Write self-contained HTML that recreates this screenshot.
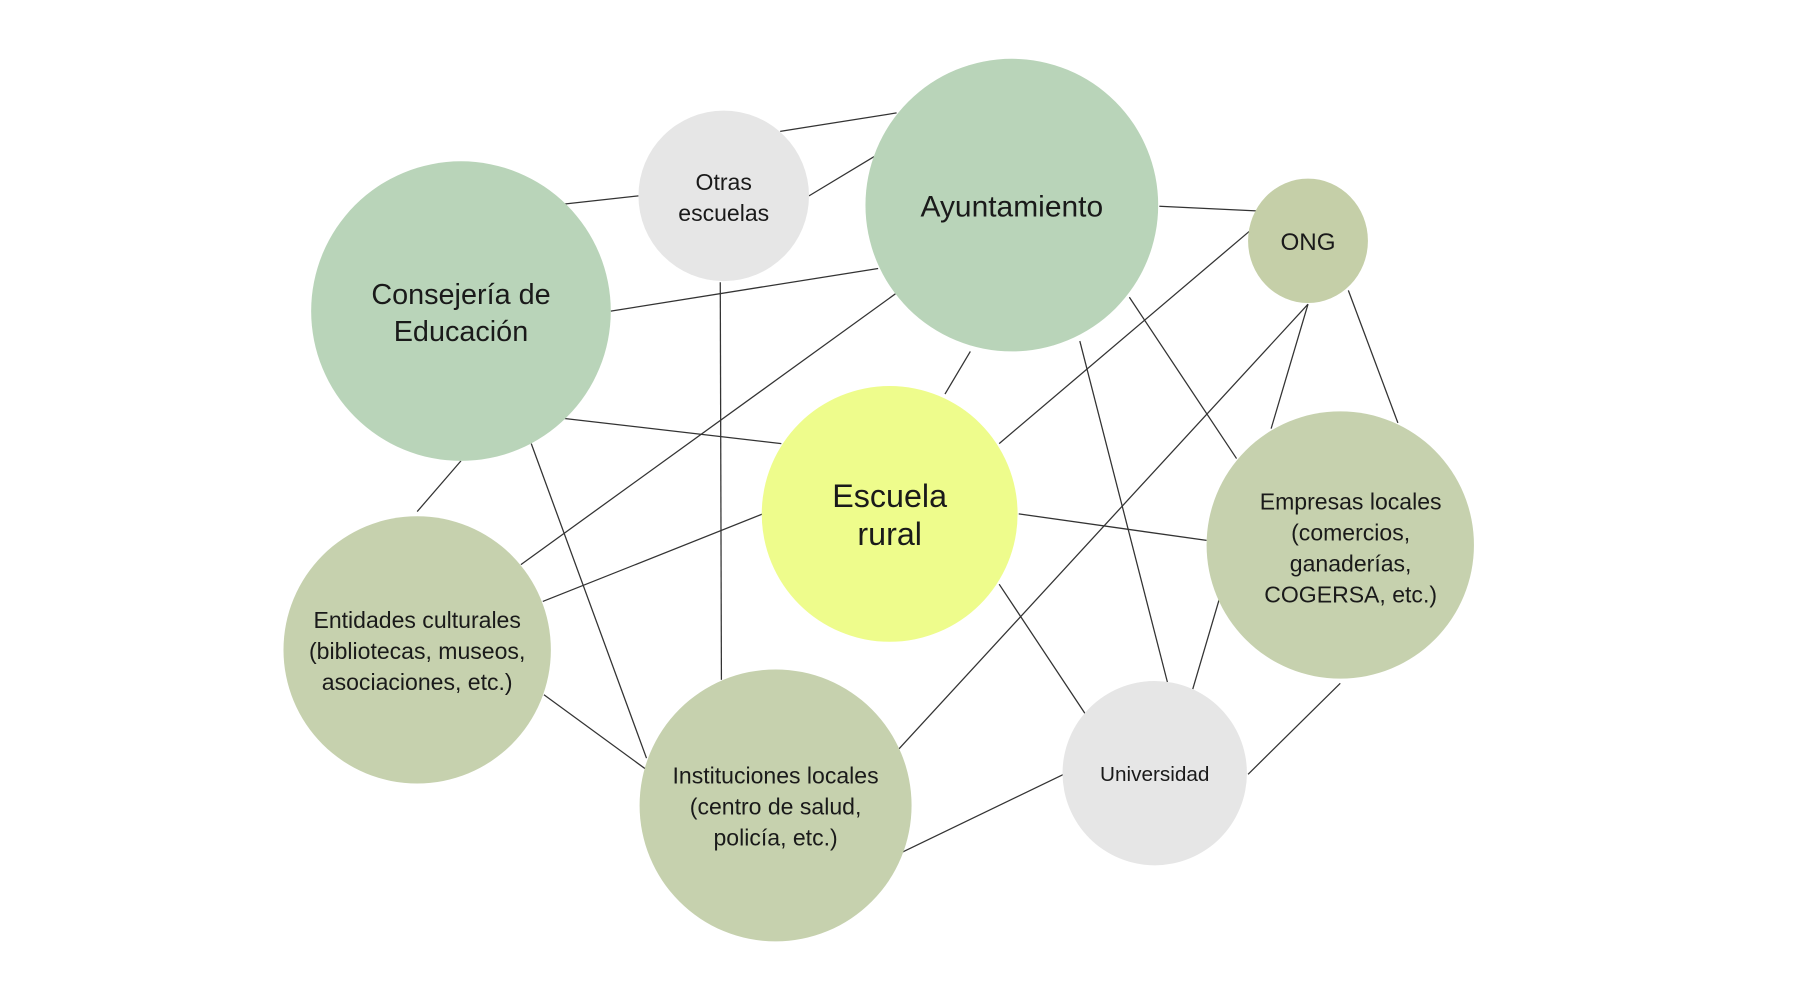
<!DOCTYPE html>
<html><head><meta charset="utf-8"><style>
html,body{margin:0;padding:0;background:#fff;}
svg{display:block;}
text{font-family:"Liberation Sans",Arial,sans-serif;fill:#1a1a1a;text-anchor:middle;}
</style></head><body>
<svg width="1807" height="984" viewBox="0 0 1568 854" preserveAspectRatio="none" xmlns="http://www.w3.org/2000/svg">
<g stroke="#333" stroke-width="1.1" fill="none">
<line x1="677" y1="114" x2="778" y2="98"/>
<line x1="702" y1="170" x2="760" y2="135"/>
<line x1="490" y1="177" x2="554" y2="170"/>
<line x1="1006" y1="179" x2="1090" y2="183"/>
<line x1="530" y1="270" x2="762" y2="233"/>
<line x1="625" y1="245" x2="626" y2="590"/>
<line x1="452" y1="490" x2="777" y2="255"/>
<line x1="842" y1="305" x2="820" y2="342"/>
<line x1="488" y1="363" x2="678" y2="385"/>
<line x1="980" y1="258" x2="1073" y2="398"/>
<line x1="937" y1="296" x2="1013" y2="592"/>
<line x1="1085" y1="200" x2="867" y2="385"/>
<line x1="1135" y1="264" x2="780" y2="650"/>
<line x1="1135" y1="264" x2="1103" y2="372"/>
<line x1="1170" y1="252" x2="1213" y2="367"/>
<line x1="884" y1="446" x2="1047" y2="469"/>
<line x1="662" y1="446" x2="471" y2="522"/>
<line x1="867" y1="507" x2="942" y2="620"/>
<line x1="400" y1="400" x2="362" y2="444"/>
<line x1="461" y1="385" x2="561" y2="658"/>
<line x1="472" y1="603" x2="561" y2="668"/>
<line x1="923" y1="672" x2="782" y2="740"/>
<line x1="1083" y1="672" x2="1163" y2="593"/>
<line x1="1035" y1="598" x2="1058" y2="520"/>
</g>
<circle cx="400" cy="270" r="130" fill="#b9d4b9"/>
<circle cx="628" cy="170" r="74" fill="#e6e6e6"/>
<circle cx="878" cy="178" r="127" fill="#b9d4b9"/>
<ellipse cx="1135" cy="209" rx="52" ry="54" fill="#c5cfa8"/>
<circle cx="772" cy="446" r="111" fill="#eefc8c"/>
<circle cx="1163" cy="473" r="116" fill="#c6d1ae"/>
<circle cx="362" cy="564" r="116" fill="#c6d1ae"/>
<circle cx="673" cy="699" r="118" fill="#c6d1ae"/>
<circle cx="1002" cy="671" r="80" fill="#e6e6e6"/>
<text font-size="25" x="400" y="264">Consejería de</text>
<text font-size="25" x="400" y="296">Educación</text>
<text font-size="20" x="628" y="165">Otras</text>
<text font-size="20" x="628" y="192">escuelas</text>
<text font-size="26" x="878" y="188">Ayuntamiento</text>
<text font-size="21" x="1135" y="217">ONG</text>
<text font-size="28" x="772" y="440">Escuela</text>
<text font-size="28" x="772" y="473">rural</text>
<text font-size="20" x="1172" y="442">Empresas locales</text>
<text font-size="20" x="1172" y="469">(comercios,</text>
<text font-size="20" x="1172" y="496">ganaderías,</text>
<text font-size="20" x="1172" y="523">COGERSA, etc.)</text>
<text font-size="20" x="362" y="545">Entidades culturales</text>
<text font-size="20" x="362" y="572">(bibliotecas, museos,</text>
<text font-size="20" x="362" y="599">asociaciones, etc.)</text>
<text font-size="20" x="673" y="680">Instituciones locales</text>
<text font-size="20" x="673" y="707">(centro de salud,</text>
<text font-size="20" x="673" y="734">policía, etc.)</text>
<text font-size="18" x="1002" y="678">Universidad</text>
</svg>
</body></html>
